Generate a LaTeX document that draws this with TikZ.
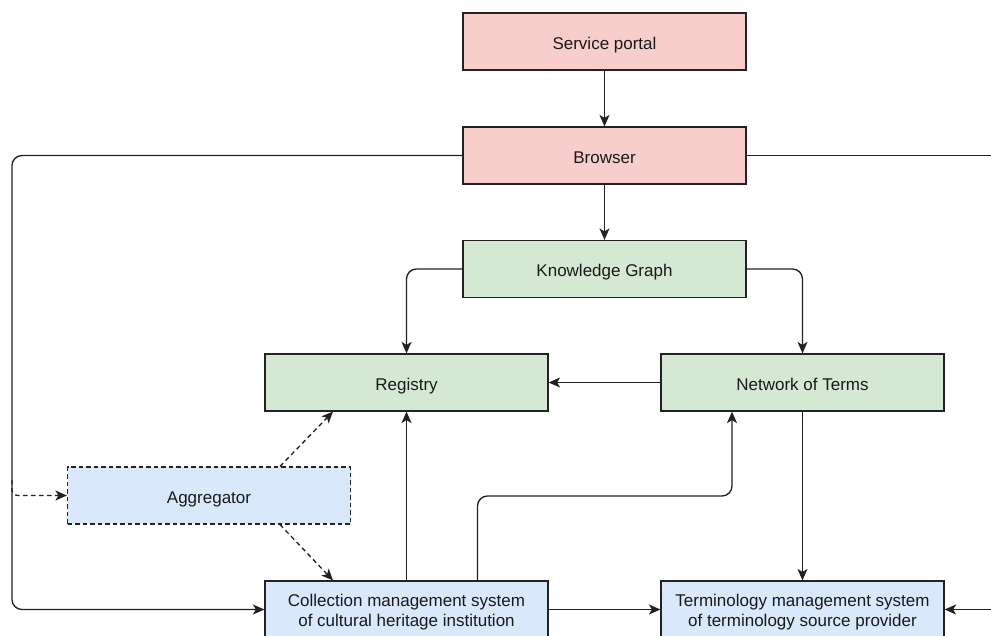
\documentclass[tikz,border=0pt]{standalone}
\usepackage{fontspec}
\setmainfont{Liberation Sans}
\usetikzlibrary{arrows.meta}

\definecolor{portalfill}{HTML}{F8CECC}
\definecolor{graphfill}{HTML}{D5E8D4}
\definecolor{systemfill}{HTML}{DAE8FC}
\definecolor{edgeline}{HTML}{222222}

\tikzset{
  boxfont/.style={font=\fontsize{17}{19.4}\selectfont, text=black!90},
  block/.style={draw=edgeline, line width=1.2pt, minimum width=283pt, minimum height=57pt,
    inner sep=0pt, boxfont, text height=15pt, text depth=0pt},
  twoline/.style={block, text height=, text depth=,
    label={[boxfont, align=center, inner sep=0pt, yshift=-2.5pt]center:#1}},
  conn/.style={draw=edgeline, line width=1.35pt, rounded corners=10pt,
    -{Stealth[length=11.5pt,width=10pt,inset=3pt]}},
  plainconn/.style={draw=edgeline, line width=1.35pt, rounded corners=10pt},
  dashconn/.style={conn, dash pattern=on 4.5pt off 3.5pt}
}

\begin{document}
\begin{tikzpicture}[x=1pt,y=-1pt]
  \useasboundingbox (0,0) rectangle (991,635);
  \clip (0,0) rectangle (991,635);

  % boxes
  \node[block, fill=portalfill] (portal)   at (604.5,41.5)  {Service portal};
  \node[block, fill=portalfill] (browser)  at (604.5,155.5) {Browser};
  \node[block, fill=graphfill]  (kg)       at (604.5,269)   {Knowledge Graph};
  \node[block, fill=graphfill]  (registry) at (406.5,382.5) {Registry};
  \node[block, fill=graphfill]  (terms)    at (802.5,382.5) {Network of Terms};
  \node[block, fill=systemfill, dash pattern=on 4.5pt off 3pt] (agg) at (209,495.5) {Aggregator};
  \node[twoline={Collection management system\\of cultural heritage institution},
        fill=systemfill] (cms) at (406.5,609.5) {};
  \node[twoline={Terminology management system\\of terminology source provider},
        fill=systemfill] (tms) at (802.5,609.5) {};

  % helper points on the page edges and on the left bus
  \coordinate (rightedge) at (991,155.5);
  \coordinate (rightin)   at (991,609.5);
  \coordinate (leftbus)   at (12,480);

  % vertical chain
  \draw[conn] (portal) -- (browser);
  \draw[conn] (browser) -- (kg);

  % knowledge graph to registry and network of terms
  \draw[conn] (kg.west) -| (registry.north);
  \draw[conn] (kg.east) -| (terms.north);
  \draw[conn] (terms) -- (registry);

  % collection system links
  \draw[conn] (cms.north) -- (registry.south);
  \draw[conn] ([xshift=71pt]cms.north) |- (600,496) -| ([xshift=-70.5pt]terms.south);
  \draw[conn] (terms.south) -- (tms.north);
  \draw[conn] (cms) -- (tms);
  \draw[conn] (rightin) -- (tms.east);

  % browser outward links
  \draw[plainconn] (browser.east) -- (rightedge);
  \draw[conn] (browser.west) -| (12,609.5) -- (cms.west);

  % aggregator (dashed)
  \draw[dashconn, rounded corners=6pt] (leftbus) |- (agg.west);
  \draw[dashconn] ([xshift=71pt]agg.north) -- ([xshift=-73.5pt]registry.south);
  \draw[dashconn] ([xshift=71pt]agg.south) -- ([xshift=-73.5pt]cms.north);
\end{tikzpicture}
\end{document}
